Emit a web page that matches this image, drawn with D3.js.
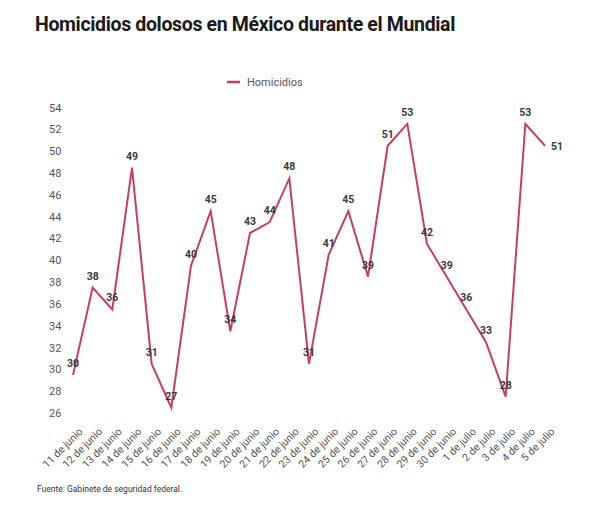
<!DOCTYPE html>
<html>
<head>
<meta charset="utf-8">
<script src="https://cdn.jsdelivr.net/npm/d3@7"></script>
<style>
  body { margin: 0; background: #fff; font-family: Roboto, "Open Sans", sans-serif; }
</style>
</head>
<body>
<svg id="chart" width="600" height="518"></svg>
<script>
// Homicidios dolosos por día, 11 de junio a 5 de julio
const dates = [
  '11 de junio', '12 de junio', '13 de junio', '14 de junio', '15 de junio',
  '16 de junio', '17 de junio', '18 de junio', '19 de junio', '20 de junio',
  '21 de junio', '22 de junio', '23 de junio', '24 de junio', '25 de junio',
  '26 de junio', '27 de junio', '28 de junio', '29 de junio', '30 de junio',
  '1 de julio', '2 de julio', '3 de julio', '4 de julio', '5 de julio'
];
const homicidios = [30, 38, 36, 49, 31, 27, 40, 45, 34, 43, 44, 48, 31, 41, 45, 39, 51, 53, 42, 39, 36, 33, 28, 53, 51];
const yTicks = [26, 28, 30, 32, 34, 36, 38, 40, 42, 44, 46, 48, 50, 52, 54];

const LINE = '#c83d66';
const svg = d3.select('#chart');

svg.append('text')
  .attr('x', 35).attr('y', 31)
  .attr('font-size', '19.5px').attr('font-weight', 700).attr('fill', '#1a1a1a')
  .attr('letter-spacing', '-0.35px')
  .text('Homicidios dolosos en México durante el Mundial');

// legend
const legend = svg.append('g').attr('transform', 'translate(227,82)');
legend.append('line').attr('x1', 0).attr('x2', 13).attr('stroke', LINE).attr('stroke-width', 2.5);
legend.append('text').attr('x', 20).attr('y', 4)
  .attr('font-size', '11px').attr('fill', '#555').text('Homicidios');

const x = d3.scalePoint().domain(dates).range([73, 545]);
const y = d3.scaleLinear().domain([26, 54]).range([418.5, 113]);

// y axis labels sit just above their tick position
const yAxis = svg.append('g');
yAxis.selectAll('text').data(yTicks).join('text')
  .attr('x', 49).attr('y', d => y(d) - 1.5)
  .attr('font-size', '11px').attr('fill', '#555')
  .text(d => d);

// x axis labels, rotated
const xAxis = svg.append('g');
xAxis.selectAll('text').data(dates).join('text')
  .attr('transform', d => `translate(${x(d) + 5},${427}) rotate(-45)`)
  .attr('text-anchor', 'end').attr('dy', '0.71em')
  .attr('font-size', '10.5px').attr('fill', '#555')
  .text(d => d);

const line = d3.line().x((d, i) => x(dates[i])).y(d => y(d));
svg.append('path').datum(homicidios)
  .attr('d', line)
  .attr('fill', 'none').attr('stroke', LINE).attr('stroke-width', 2)
  .attr('stroke-linejoin', 'miter');

const last = homicidios.length - 1;
svg.append('g').selectAll('text').data(homicidios).join('text')
  .attr('x', (d, i) => i === last ? x(dates[i]) + 6 : x(dates[i]))
  .attr('y', (d, i) => i === last ? y(d) + 4 : y(d) - 8)
  .attr('text-anchor', (d, i) => i === last ? 'start' : 'middle')
  .attr('font-size', '10.5px').attr('font-weight', 700).attr('fill', '#3a3a3a')
  .text(d => d);

svg.append('text')
  .attr('x', 37).attr('y', 492)
  .attr('font-size', '8.5px').attr('fill', '#333')
  .text('Fuente: Gabinete de seguridad federal.');
</script>
</body>
</html>
